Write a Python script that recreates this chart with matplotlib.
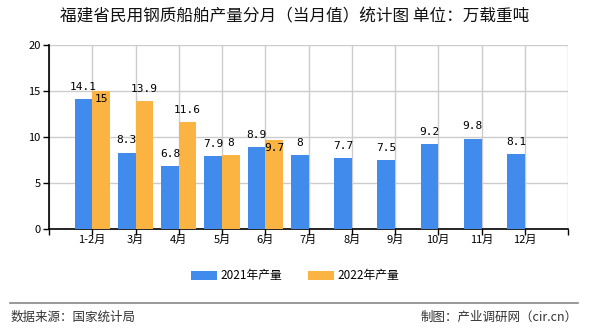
import matplotlib.pyplot as plt
import numpy as np

plt.rcParams['font.family'] = ['Noto Sans CJK SC', 'DejaVu Sans']

months = ['1-2月', '3月', '4月', '5月', '6月', '7月', '8月', '9月', '10月', '11月', '12月']
output_2021 = [14.1, 8.3, 6.8, 7.9, 8.9, 8, 7.7, 7.5, 9.2, 9.8, 8.1]
output_2022 = [15, 13.9, 11.6, 8, 9.7]
# 2022 labels that the source draws just inside the bar top
inside_2022 = {0, 4}

blue = '#418BEC'
orange = '#FBB441'

fig = plt.figure(figsize=(5.9, 3.3), dpi=100)
ax = fig.add_axes([49 / 590, 1 - 229 / 330, 519 / 590, 184 / 330])

x = np.arange(1, len(months) + 1)
w = 0.41
ax.bar(x - w / 2, output_2021, width=w, color=blue, label='2021年产量', zorder=3)
x2 = x[:len(output_2022)]
ax.bar(x2 + w / 2, output_2022, width=w, color=orange, label='2022年产量', zorder=3)

lbl = dict(fontsize=8, family='DejaVu Sans Mono', zorder=4, ha='center')
for xi, v in zip(x, output_2021):
    ax.text(xi - w / 2, v + 0.8, f'{v:g}', va='bottom', **lbl)
for i, (xi, v) in enumerate(zip(x2, output_2022)):
    if i in inside_2022:
        ax.text(xi + w / 2, v - 0.3, f'{v:g}', va='top', **lbl)
    else:
        ax.text(xi + w / 2, v + 0.8, f'{v:g}', va='bottom', **lbl)

ax.set_xlim(0, 12)
ax.set_ylim(0, 20)
ax.set_yticks([0, 5, 10, 15, 20])
ax.set_xticks(x)
ax.set_xticklabels(months, fontsize=8)
ax.tick_params(axis='y', labelsize=8, length=4, width=1, pad=2)
ax.tick_params(axis='x', length=0, pad=4)
ax.xaxis.remove_overlapping_locs = False
ax.set_xticks(np.arange(0, 13), minor=True)
ax.tick_params(axis='x', which='minor', length=4, width=1)

ax.grid(True, which='major', axis='y', color='#cccccc', linewidth=1, zorder=0)
ax.grid(True, which='minor', axis='x', color='#cccccc', linewidth=1, zorder=0)
ax.set_axisbelow(True)
for s in ['top', 'right']:
    ax.spines[s].set_visible(False)
ax.spines['left'].set_linewidth(1.2)
ax.spines['bottom'].set_linewidth(1.2)

fig.text(0.5, 1 - 17 / 330, '福建省民用钢质船舶产量分月（当月值）统计图 单位：万载重吨',
         ha='center', va='center', fontsize=12, color='#111111')

fig.legend(loc='center', bbox_to_anchor=(0.5, 1 - 276 / 330), ncol=2, frameon=False,
           fontsize=8.5, handlelength=2.2, handleheight=0.8, columnspacing=2.2,
           handletextpad=0.3)

fig.add_artist(plt.Line2D([10 / 590, 578 / 590], [1 - 303 / 330, 1 - 303 / 330],
                          color='#888888', linewidth=1.2))
fig.text(11 / 590, 1 - 317 / 330, '数据来源：国家统计局', ha='left', va='center',
         fontsize=9, color='#333333')
fig.text(578 / 590, 1 - 317 / 330, '制图：产业调研网（cir.cn）', ha='right', va='center',
         fontsize=9, color='#333333')

fig.savefig('out.png', dpi=100)
